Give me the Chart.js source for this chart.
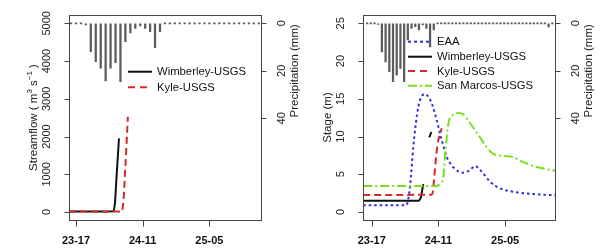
<!DOCTYPE html>
<html>
<head>
<meta charset="utf-8">
<script src="https://cdn.jsdelivr.net/npm/chart.js@4.4.1/dist/chart.umd.min.js"></script>
<style>
  html, body { margin: 0; padding: 0; background: #fff; }
  #wrap { position: relative; width: 602px; height: 250px; overflow: hidden; }
  canvas { position: absolute; top: 0; }
  #left { left: 0; }
  #right { left: 300px; }
</style>
</head>
<body>
<div id="wrap">
  <canvas id="left" width="300" height="250"></canvas>
  <canvas id="right" width="302" height="250"></canvas>
</div>
<script>
// hours after 23-17 on the x axis
const tickHours = [0, 18, 36];
const tickLabels = ["23-17", "24-11", "25-05"];
const precipTicks = [0, 20, 40];
const flowTicks = [0, 1000, 2000, 3000, 4000, 5000];
const stageTicks = [0, 5, 10, 15, 20, 25];

// left panel: streamflow
const rainHoursLeft = [-1.33, 0, 1.33, 2.67, 4, 5.33, 6.67, 8, 9.33, 10.67, 12, 13.33, 14.67, 16, 17.33,
    18.67, 20, 21.33, 22.67, 24, 25.33, 26.67, 28, 29.33, 30.67, 32, 33.33, 34.67, 36, 37.33,
    38.67, 40, 41.33, 42.67, 44, 45.33, 46.67, 48, 49.33];
const rainMmLeft = [0, 0, 0, 0.7, 11.9, 16.1, 18.9, 24.3, 18.9, 16.6, 24.6, 7.7, 4.0, 2.1, 1.1,
    2.1, 3.5, 10.3, 3.5, 0, 0, 0, 0, 0, 0, 0, 0, 0, 0, 0,
    0, 0, 0, 0, 0, 0, 0, 0, 0];
const wimberleyFlowHours = [-1.9, 10.1, 10.5, 11.0, 11.6];
const wimberleyFlow = [10, 20, 230, 1025, 1950];
const kyleFlowHours = [-1.9, 12.4, 12.8, 13.3, 14.0];
const kyleFlow = [10, 10, 300, 1150, 2520];

// right panel: stage
const rainHoursRight = [-1.25, -0.25, 0.75, 1.75, 2.75, 3.75, 4.75, 5.75, 6.75, 7.75, 8.75, 9.75, 10.75,
    11.75, 12.75, 13.75, 14.75, 15.75, 16.75, 17.75, 18.75, 19.75, 20.75, 21.75, 22.75, 23.75,
    24.75, 25.75, 26.75, 27.75, 28.75, 29.75, 30.75, 31.75, 32.75, 33.75, 34.75, 35.75, 36.75,
    37.75, 38.75, 39.75, 40.75, 41.75, 42.75, 43.75, 44.75, 45.75, 46.75, 47.75, 48.75];
const rainMmRight = [0, 0, 0, 0.5, 12.0, 16.2, 20.4, 24.6, 21.8, 19.0, 24.6, 7.0, 2.1,
    1.4, 2.8, 0.7, 2.1, 9.9, 2.8, 0, 0, 0, 0, 0, 0, 0,
    0, 0, 0, 0, 0, 0, 0, 0, 0, 0, 0, 0, 0,
    0, 0, 0, 0, 0, 0, 0, 0, 0, 0, 1.5, 0];
const eaaHours = [-2.3, 9.3, 9.45, 10.34, 11.23, 12.58, 14.39, 16.19, 17.54, 18.89, 20.24, 22.04,
    24.72, 26.53, 27.88, 29.69, 31.93, 34.63, 39.14, 44.53, 49.7];
const eaaStage = [0.9, 0.9, 0.95, 3.35, 8.65, 13.95, 15.63, 14.4, 12.19, 9.54, 7.33, 5.92,
    5.21, 5.56, 6.09, 5.34, 4.01, 3.14, 2.61, 2.34, 2.21];
const wimberleyStageHours = [-2.3, 12.6, 13.3, 13.6, 13.9, 14.7, 15.55, 16.1];
const wimberleyStage = [1.5, 1.5, 2.0, 2.8, 3.7, null, 9.9, 10.6];
const kyleStageHours = [-2.3, 16.2, 16.6, 16.8, 17.7, 18.9];
const kyleStage = [2.25, 2.3, 3.0, 4.2, 8.7, 11.1];
const sanMarcosHours = [-2.3, 17.5, 18.6, 19.3, 20.0, 20.7, 22.0, 23.3, 24.8, 26.2, 27.4, 29.2,
    31.0, 32.8, 35.0, 38.0, 40.5, 43.6, 46.5, 49.7];
const sanMarcosStage = [3.45, 3.45, 3.8, 4.6, 8.6, 11.7, 12.9, 13.1, 12.9, 12.0, 11.2, 9.9,
    8.6, 7.7, 7.45, 7.3, 6.7, 6.1, 5.75, 5.45];

const FONT = "'Liberation Sans', Arial, Helvetica, sans-serif";
const AXIS = "#444";
const BLUE = "#2b2be6";
const RED = "#d42a2a";
const GREEN = "#78e01c";
const BLACK = "#111";

const toPoints = (xs, ys) => xs.map((x, i) => ({ x: x, y: ys[i] }));

const lineSet = (label, xs, ys, color, dash, order) => ({
    type: "line",
    label: label,
    data: toPoints(xs, ys),
    yAxisID: "y",
    borderColor: color,
    borderWidth: 2,
    borderDash: dash,
    pointRadius: 0,
    cubicInterpolationMode: "monotone",
    spanGaps: false,
    order: order,
});

const rainSet = (xs, ys) => ({
    type: "bar",
    label: "rain",
    data: toPoints(xs, ys),
    yAxisID: "y2",
    backgroundColor: "#5c5c5c",
    barThickness: 1.6,
    minBarLength: 1,
    grouped: false,
    order: 10,
});

const rotatedText = (ctx, text, x, y, font) => {
    ctx.save();
    ctx.translate(x, y);
    ctx.rotate(-Math.PI / 2);
    ctx.font = font;
    ctx.textAlign = "center";
    ctx.textBaseline = "middle";
    ctx.fillText(text, 0, 0);
    ctx.restore();
};

// rotated title with superscript parts
const rotatedParts = (ctx, parts, x, y) => {
    ctx.save();
    ctx.translate(x, y);
    ctx.rotate(-Math.PI / 2);
    ctx.textBaseline = "middle";
    ctx.textAlign = "left";
    const fontOf = (sup) => (sup ? "8px " : "11.5px ") + FONT;
    const widths = parts.map((p) => {
        ctx.font = fontOf(p[1]);
        return ctx.measureText(p[0]).width;
    });
    let cx = -widths.reduce((s, w) => s + w, 0) / 2;
    parts.forEach((p, i) => {
        ctx.font = fontOf(p[1]);
        ctx.fillText(p[0], cx, p[1] ? -4 : 0);
        cx += widths[i];
    });
    ctx.restore();
};

const tickMark = (ctx, x1, y1, x2, y2) => {
    ctx.beginPath();
    ctx.moveTo(x1, y1);
    ctx.lineTo(x2, y2);
    ctx.stroke();
};

const panelDecor = {
    id: "panelDecor",
    afterDraw(chart, args, opts) {
        const { ctx, chartArea: a } = chart;
        const xScale = chart.scales.x;
        const yScale = chart.scales.y;
        const pScale = chart.scales.y2;
        const left = Math.round(a.left) + 0.5;
        const right = Math.round(a.right) - 0.5;
        const bottom = Math.round(a.bottom) + 0.5;
        ctx.save();
        ctx.strokeStyle = AXIS;
        ctx.lineWidth = 1;
        ctx.strokeRect(left, Math.round(a.top) + 0.5, right - left, bottom - Math.round(a.top) - 0.5);

        // tick marks
        tickHours.forEach((h) => {
            const px = Math.round(xScale.getPixelForValue(h)) + 0.5;
            tickMark(ctx, px, bottom, px, bottom + 6);
        });
        yScale.ticks.forEach((t) => {
            const py = Math.round(yScale.getPixelForValue(t.value)) + 0.5;
            tickMark(ctx, left, py, left - 5, py);
        });
        pScale.ticks.forEach((t) => {
            const py = Math.round(pScale.getPixelForValue(t.value)) + 0.5;
            tickMark(ctx, right, py, right + 5, py);
        });

        ctx.fillStyle = "#222";
        const tickFont = "11px " + FONT;
        yScale.ticks.forEach((t) => {
            rotatedText(ctx, String(t.value), a.left - 22, yScale.getPixelForValue(t.value), tickFont);
        });
        pScale.ticks.forEach((t) => {
            rotatedText(ctx, String(t.value), a.right + 20, pScale.getPixelForValue(t.value), tickFont);
        });
        const pMid = (pScale.getPixelForValue(precipTicks[0]) + pScale.getPixelForValue(precipTicks[precipTicks.length - 1])) / 2;
        rotatedText(ctx, "Precipitation (mm)", a.right + 33, pMid, "11.5px " + FONT);
        rotatedParts(ctx, opts.title, a.left - 35, (a.top + a.bottom) / 2);

        // legend
        const lg = opts.legend;
        lg.items.forEach((item, i) => {
            const y = lg.rows[i];
            ctx.beginPath();
            ctx.setLineDash(item.dash);
            ctx.strokeStyle = item.color;
            ctx.lineWidth = 2;
            ctx.moveTo(lg.x1, y);
            ctx.lineTo(lg.x2, y);
            ctx.stroke();
            ctx.setLineDash([]);
            ctx.fillStyle = "#111";
            ctx.font = "11.3px " + FONT;
            ctx.textAlign = "left";
            ctx.textBaseline = "middle";
            ctx.fillText(item.label, lg.textX, y + 0.5);
        });
        ctx.restore();
    },
};

const makePanel = (canvasId, panel) => {
    const ctx = document.getElementById(canvasId).getContext("2d");
    // tick marks are drawn by panelDecor, the grid only keeps the spacing
    const hiddenGrid = (len) => ({
        drawOnChartArea: false,
        drawTicks: true,
        tickLength: len,
        color: "rgba(0,0,0,0)",
    });
    return new Chart(ctx, {
        type: "line",
        data: { datasets: panel.datasets },
        options: {
            responsive: false,
            animation: false,
            devicePixelRatio: 1,
            layout: { padding: { top: 15, left: 0, right: 0, bottom: 0 } },
            plugins: {
                legend: { display: false },
                tooltip: { enabled: false },
                panelDecor: { title: panel.title, legend: panel.legend },
            },
            scales: {
                x: {
                    type: "linear",
                    min: panel.xMin,
                    max: panel.xMax,
                    offset: false,
                    afterBuildTicks: (s) => { s.ticks = tickHours.map((v) => ({ value: v })); },
                    afterFit: (s) => { s.height = 30; },
                    grid: hiddenGrid(6),
                    border: { display: false },
                    ticks: {
                        autoSkip: false,
                        maxRotation: 0,
                        padding: 8,
                        color: "#111",
                        font: { family: FONT, size: 11, weight: "bold" },
                        callback: (v, i) => tickLabels[i],
                    },
                },
                y: {
                    type: "linear",
                    position: "left",
                    min: panel.yMin,
                    max: panel.yMax,
                    afterBuildTicks: (s) => { s.ticks = panel.yTicks.map((v) => ({ value: v })); },
                    afterFit: (s) => { s.width = panel.leftWidth; },
                    grid: hiddenGrid(5),
                    border: { display: false },
                    ticks: { display: false },
                },
                y2: {
                    type: "linear",
                    position: "right",
                    reverse: true,
                    min: -3.5,
                    max: 82.8,
                    afterBuildTicks: (s) => { s.ticks = precipTicks.map((v) => ({ value: v })); },
                    afterFit: (s) => { s.width = panel.rightWidth; },
                    grid: hiddenGrid(5),
                    border: { display: false },
                    ticks: { display: false },
                },
            },
        },
        plugins: [panelDecor],
    });
};

makePanel("left", {
    xMin: -1.89,
    xMax: 50.12,
    yMin: -212,
    yMax: 5220,
    yTicks: flowTicks,
    leftWidth: 69,
    rightWidth: 38.3,
    title: [["Streamflow ( m", false], ["3", true], [" s", false], ["\u22121", true], [" )", false]],
    legend: {
        x1: 128, x2: 152, textX: 157, rows: [71.7, 87.3],
        items: [
            { label: "Wimberley-USGS", color: BLACK, dash: [] },
            { label: "Kyle-USGS", color: RED, dash: [7, 5] },
        ],
    },
    datasets: [
        lineSet("Kyle-USGS", kyleFlowHours, kyleFlow, RED, [7, 4], 1),
        lineSet("Wimberley-USGS", wimberleyFlowHours, wimberleyFlow, BLACK, [], 2),
        rainSet(rainHoursLeft, rainMmLeft),
    ],
});

makePanel("right", {
    xMin: -2.27,
    xMax: 49.74,
    yMin: -1.06,
    yMax: 26.1,
    yTicks: stageTicks,
    leftWidth: 63.3,
    rightWidth: 46,
    title: [["Stage (m)", false]],
    legend: {
        x1: 108, x2: 132, textX: 137, rows: [41.7, 56.7, 71, 85.7],
        items: [
            { label: "EAA", color: BLUE, dash: [3, 3] },
            { label: "Wimberley-USGS", color: BLACK, dash: [] },
            { label: "Kyle-USGS", color: RED, dash: [7, 5] },
            { label: "San Marcos-USGS", color: GREEN, dash: [9, 3, 2, 3] },
        ],
    },
    datasets: [
        lineSet("San Marcos-USGS", sanMarcosHours, sanMarcosStage, GREEN, [9, 3, 2, 3], 1),
        lineSet("Kyle-USGS", kyleStageHours, kyleStage, RED, [7, 4], 2),
        lineSet("Wimberley-USGS", wimberleyStageHours, wimberleyStage, BLACK, [], 3),
        lineSet("EAA", eaaHours, eaaStage, BLUE, [2.5, 3], 4),
        rainSet(rainHoursRight, rainMmRight),
    ],
});
</script>
</body>
</html>
